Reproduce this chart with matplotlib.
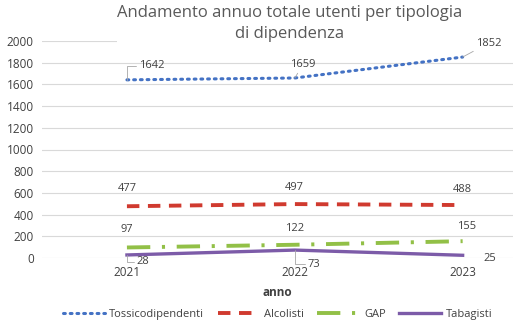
import matplotlib
matplotlib.use('Agg')
import matplotlib.pyplot as plt
from matplotlib.patches import Rectangle

anni = ['2021', '2022', '2023']
tossicodipendenti = [1642, 1659, 1852]
alcolisti = [477, 497, 488]
gap = [97, 122, 155]
tabagisti = [28, 73, 25]

grey = '#595959'
plt.rcParams['font.family'] = ['Open Sans', 'DejaVu Sans']

fig = plt.figure(figsize=(5.13, 3.22), dpi=100)
ax = fig.add_axes([42 / 513, 64 / 322, 471 / 513, 217 / 322])

x = range(len(anni))
ax.plot(x, tossicodipendenti, color='#4472C4', lw=2.2, linestyle=(0, (0.6, 1.6)),
        dash_capstyle='round', label='Tossicodipendenti', zorder=3)
ax.plot(x, alcolisti, color='#D03A2F', lw=2.8, linestyle=(0, (3.2, 2.2)), label='Alcolisti', zorder=3)
ax.plot(x, gap, color='#92C047', lw=2.8, linestyle=(0, (6, 3, 0.8, 3)), label='GAP', zorder=3)
ax.plot(x, tabagisti, color='#7C5BA8', lw=2.4, label='Tabagisti', zorder=3)

# data labels: (offset x, offset y) in pixels, leader line style (None = no line)
elbow = 'angle,angleA=0,angleB=90,rad=0'
straight = 'arc3'
labels = [
    (tossicodipendenti, [(25, 14, elbow), (8, 13, straight), (26, 14, straight)]),
    (alcolisti, [(0, 18, None), (0, 17, None), (0, 16, None)]),
    (gap, [(0, 18, None), (0, 16, None), (4, 15, None)]),
    (tabagisti, [(16, -7, elbow), (19, -14, elbow), (27, -3, None)]),
]
for serie, offs in labels:
    for i, (v, (dx, dy, lead)) in enumerate(zip(serie, offs)):
        arrow = None
        if lead:
            arrow = dict(arrowstyle='-', color='#A6A6A6', lw=0.6, shrinkA=0, shrinkB=0,
                         connectionstyle=lead)
        ax.annotate(str(v), (i, v), xytext=(dx, dy), textcoords='offset pixels',
                    ha='center', va='center', fontsize=8, color='#404040',
                    arrowprops=arrow, zorder=6, annotation_clip=False)

ax.set_xlim(-0.506, 2.3)
ax.set_ylim(0, 2000)
ax.set_yticks(range(0, 2001, 200))
ax.set_xticks(list(x))
ax.set_xticklabels(anni)
ax.tick_params(length=0, labelsize=8.5, labelcolor='#404040', pad=6)
ax.grid(axis='y', color='#D9D9D9', lw=0.8)
ax.set_axisbelow(True)
for s in ax.spines.values():
    s.set_visible(False)

ax.set_xlabel('anno', fontsize=8.5, fontweight='bold', color='#404040', labelpad=5)

# title block hides the top gridline like in the original
ax.add_patch(Rectangle((117 / 513, 1 - 46 / 322), 1, 46 / 322, transform=fig.transFigure,
                       facecolor='white', edgecolor='none', zorder=1, clip_on=False))
fig.text(290 / 513, 1 - 13 / 322, 'Andamento annuo totale utenti per tipologia',
         ha='center', va='center', fontsize=12, color=grey, zorder=4)
fig.text(290 / 513, 1 - 34 / 322, 'di dipendenza', ha='center', va='center', fontsize=12,
         color=grey, zorder=4)

ax.legend(loc='center', bbox_to_anchor=(0.5, -0.26), ncol=4, frameon=False, fontsize=8,
          labelcolor='#404040', handlelength=3.8, columnspacing=1.2, handletextpad=0.4)

fig.savefig('out.png', dpi=100)
